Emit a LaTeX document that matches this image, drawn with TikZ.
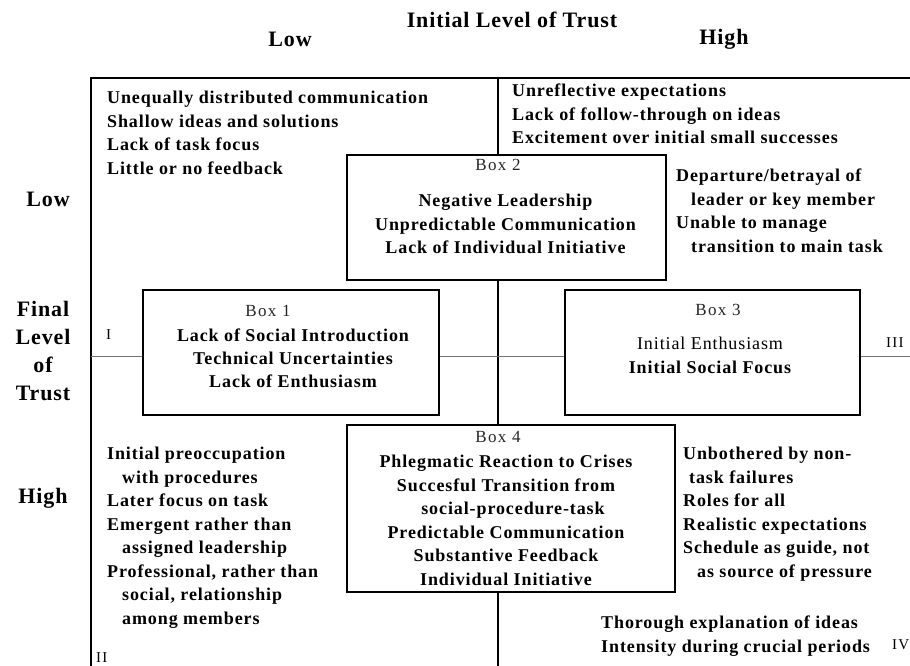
\documentclass[tikz,border=0pt]{standalone}
\usepackage{fontspec}
\setmainfont{Liberation Serif}
\newfontfamily\bodyfont[LetterSpace=5]{Liberation Serif}
\newfontfamily\headfont[LetterSpace=4]{Liberation Serif}
\newfontfamily\labfont[LetterSpace=8]{Liberation Serif}
\begin{document}
\begin{tikzpicture}[x=1pt,y=-1pt,
  body/.style={font=\bodyfont\fontsize{18}{23.5}\selectfont\bfseries, inner sep=0, align=left, anchor=north west},
  bodyc/.style={body, align=center, anchor=north},
  head/.style={font=\headfont\fontsize{22}{24}\selectfont\bfseries, inner sep=0},
  boxlab/.style={font=\labfont\fontsize{17}{20}\selectfont, inner sep=0, text=black!85},
  numeral/.style={font=\labfont\fontsize{15}{18}\selectfont, inner sep=0, anchor=west},
  qbox/.style={draw=black, line width=1.1pt, fill=white, rectangle, inner sep=0},
  frame/.style={line width=1.1pt},
  midline/.style={line width=1pt, draw=black!55}]
\useasboundingbox (0,0) rectangle (910,666);
% frame coordinates
\coordinate (tl) at (91,78);
\coordinate (tr) at (910,78);
\coordinate (bl) at (91,666);
\coordinate (vt) at (498,78);
\coordinate (vb) at (498,666);
\coordinate (hl) at (91,356);
\coordinate (hr) at (910,356);
% boxes
\node[qbox, minimum width=296, minimum height=125] (b1) at (291,352.5) {};
\node[qbox, minimum width=319, minimum height=125] (b2) at (506.5,217.5) {};
\node[qbox, minimum width=295, minimum height=125] (b3) at (712.5,352.5) {};
\node[qbox, minimum width=328, minimum height=167] (b4) at (511,508.5) {};
% frame and axes
\draw[frame] (tr) -- (tl) -- (bl);
\draw[frame] (vt) -- (vt |- b2.north);
\draw[frame] (vt |- b2.south) -- (vt |- b4.north);
\draw[frame] (vt |- b4.south) -- (vb);
\draw[midline] (hl) -- (hl -| b1.west);
\draw[midline] (hl -| b1.east) -- (hl -| b3.west);
\draw[midline] (hl -| b3.east) -- (hr);
% headers
\node[head] (title) at (512,20) {Initial Level of Trust};
\node[head] (lowT) at (290,39) {Low};
\node[head] (highT) at (724,39) {High};
\node[head] (lowL) at (48,199) {Low};
\node[head] (finL) at (43,309) {Final};
\node[head] (levL) at (43,337) {Level};
\node[head] (ofL) at (43,365) {of};
\node[head] (truL) at (43,393) {Trust};
\node[head] (highL) at (43,498) {High};
% quadrant texts
\node[body] (tlt) at (107,91) {Unequally distributed communication\\Shallow ideas and solutions\\Lack of task focus\\Little or no feedback};
\node[body] (trt) at (512,84) {Unreflective expectations\\Lack of follow-through on ideas\\Excitement over initial small successes};
\node[body] (dep) at (676,169) {Departure/betrayal of\\\hspace*{15pt}leader or key member\\Unable to manage\\\hspace*{15pt}transition to main task};
\node[body] (blt) at (107,447) {Initial preoccupation\\\hspace*{15pt}with procedures\\Later focus on task\\Emergent rather than\\\hspace*{15pt}assigned leadership\\Professional, rather than\\\hspace*{15pt}social, relationship\\\hspace*{15pt}among members};
\node[body] (brt) at (683,447) {Unbothered by non-\\\hspace*{6pt}task failures\\Roles for all\\Realistic expectations\\Schedule as guide, not\\\hspace*{14pt}as source of pressure};
\node[body] (thr) at (601,616) {Thorough explanation of ideas\\Intensity during crucial periods};
% numerals
\node[numeral] (n1) at (106,335) {I};
\node[numeral] (n2) at (96,658) {II};
\node[numeral] (n3) at (886,343) {III};
\node[numeral] (n4) at (892,645) {IV};
% box contents
\node[boxlab] (l1) at (268,311) {Box 1};
\node[bodyc, font=\bodyfont\fontsize{18}{23}\selectfont\bfseries] (t1) at (293,329) {Lack of Social Introduction\\Technical Uncertainties\\Lack of Enthusiasm};
\node[boxlab] (l2) at (498,165) {Box 2};
\node[bodyc] (t2) at (505.5,194) {Negative Leadership\\Unpredictable Communication\\Lack of Individual Initiative};
\node[boxlab] (l3) at (718,310) {Box 3};
\node[bodyc, font=\bodyfont\fontsize{18}{24}\selectfont\bfseries] (t3) at (710,337) {{\mdseries Initial Enthusiasm}\\Initial Social Focus};
\node[boxlab] (l4) at (498,437) {Box 4};
\node[bodyc] (t4) at (506,455) {Phlegmatic Reaction to Crises\\Succesful Transition from\\\hspace*{14pt}social-procedure-task\\Predictable Communication\\Substantive Feedback\\Individual Initiative};
\end{tikzpicture}
\end{document}
